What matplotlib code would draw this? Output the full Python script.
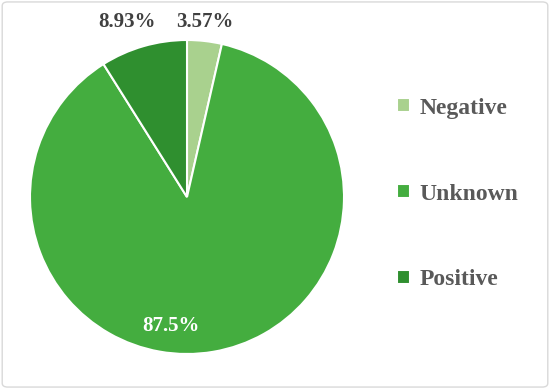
import matplotlib.pyplot as plt
from matplotlib.patches import FancyBboxPatch

labels = ['Negative', 'Unknown', 'Positive']
values = [3.57, 87.5, 8.93]
pct_text = ['3.57%', '87.5%', '8.93%']
colors = ['#a9d18e', '#44ad3f', '#2f8f2f']
# label positions in pie units (radius 1)
label_pos = [(0.115, 1.115), (-0.1, -0.82), (-0.38, 1.115)]
label_col = ['#404040', 'white', '#404040']

plt.rcParams['font.family'] = ['Liberation Serif', 'DejaVu Serif']

fig = plt.figure(figsize=(5.5, 3.89), dpi=100)
ax = fig.add_axes([(187 - 157) / 550, 1 - (197 + 157) / 389, 314 / 550, 314 / 389])

wedges, _ = ax.pie(values, colors=colors, startangle=90, counterclock=False,
                   radius=1, wedgeprops=dict(edgecolor='white', linewidth=1.5))
ax.set_xlim(-1, 1)
ax.set_ylim(-1, 1)
ax.set_aspect('equal')

for (x, y), t, c in zip(label_pos, pct_text, label_col):
    ax.text(x, y, t, ha='center', va='center', fontsize=15, fontweight='bold',
            color=c, clip_on=False)

leg = fig.legend(wedges, labels, loc='center left', bbox_to_anchor=(376 / 550, 1 - 194 / 389),
                 frameon=False, handlelength=0.55, handleheight=0.55, handletextpad=0.4,
                 labelspacing=2.75, prop=dict(size=17, weight='bold'))
for t in leg.get_texts():
    t.set_color('#595959')

border = FancyBboxPatch((0.004, 0.005), 0.992, 0.99, boxstyle='round,pad=0,rounding_size=0.01',
                        transform=fig.transFigure, fill=False, edgecolor='#d9d9d9', linewidth=1)
fig.patches.append(border)

fig.savefig('out.png', dpi=100)
